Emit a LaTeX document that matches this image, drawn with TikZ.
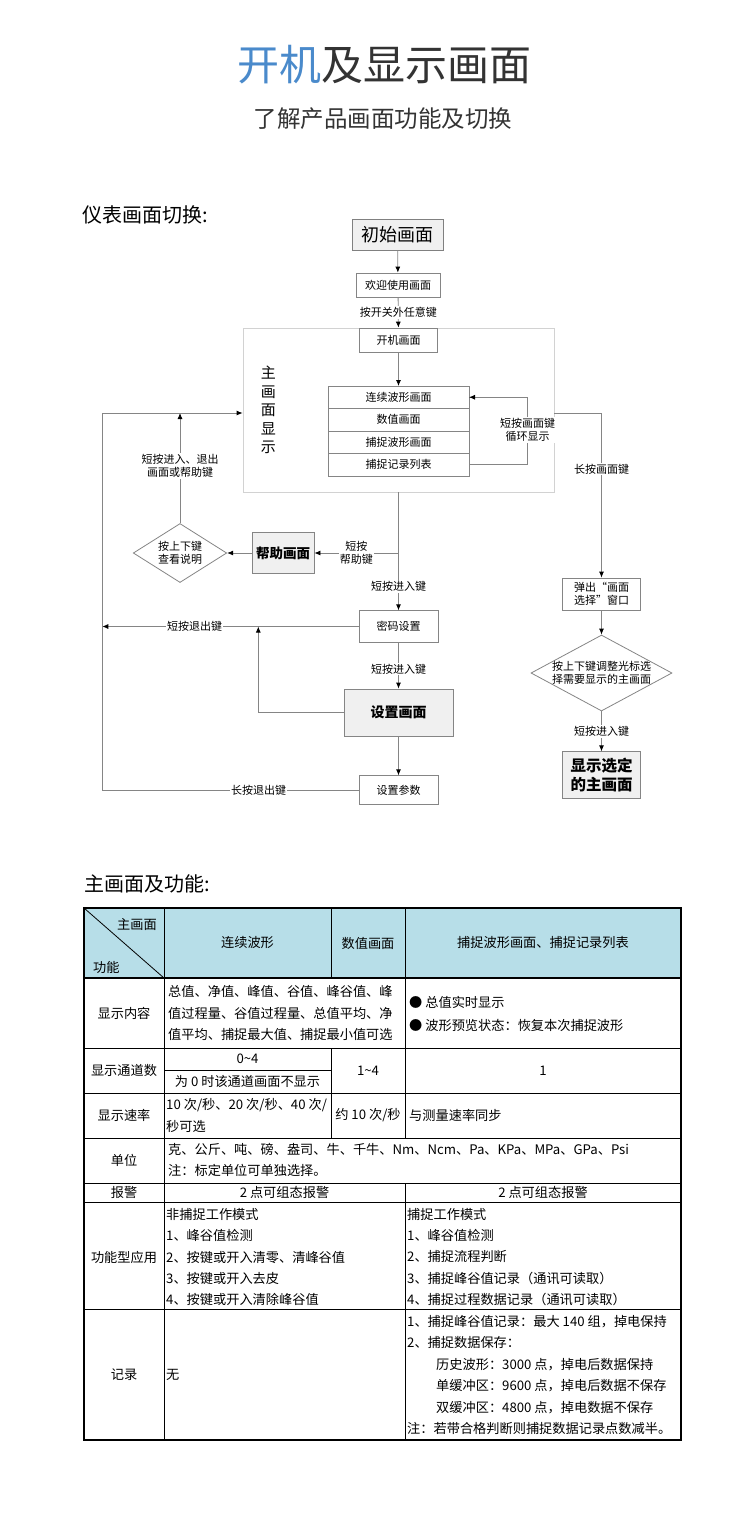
\documentclass[tikz,border=0pt]{standalone}
\usepackage{fontspec}
\setmainfont{Noto Sans CJK SC}
\usepackage{xcolor}
\usetikzlibrary{shapes.geometric, arrows.meta, positioning, calc}

\definecolor{titleblue}{HTML}{4A8ACB}
\definecolor{inkgray}{HTML}{333333}
\definecolor{flowline}{HTML}{858585}
\definecolor{framegray}{HTML}{D2D2D2}
\definecolor{screenfill}{HTML}{F0F0F0}
\definecolor{headblue}{HTML}{B7DEE8}

\newcommand{\flowfont}{\fontsize{11}{13.5}\selectfont}
\newcommand{\cellfont}{\fontsize{13.2}{21.5}\selectfont}

\begin{document}
\begin{tikzpicture}[x=1pt, y=-1pt,
        screen/.style={rectangle, draw=flowline, fill=white, line width=0.8pt, inner sep=0pt, align=center, font=\flowfont},
        keyscreen/.style={screen, fill=screenfill, font=\fontsize{13.5}{17}\selectfont\bfseries},
        stack/.style={screen, minimum width=141pt, minimum height=22.5pt, outer sep=0pt},
        choice/.style={diamond, draw=flowline, fill=white, line width=0.8pt, inner sep=0pt},
        arrow/.style={-{Latex[length=6pt, width=5pt, color=black]}, draw=flowline, line width=0.8pt},
        keylabel/.style={fill=white, inner sep=1pt, align=center, font=\flowfont},
        tline/.style={draw=black, line width=0.8pt},
        tframe/.style={draw=black, line width=1.8pt},
        cell/.style={inner sep=0pt, align=center, font=\cellfont},
        celltext/.style={inner sep=0pt, align=left, anchor=west, font=\cellfont}
    ]
        \useasboundingbox (0,0) rectangle (750,1527);

        % Headings
        \node[font=\fontsize{42}{46}\selectfont, text=inkgray] (title) at (384,65) {\textcolor{titleblue}{开机}及显示画面};
        \node[font=\fontsize{23.5}{26}\selectfont, text=inkgray] (subtitle) at (383,119) {了解产品画面功能及切换};
        \node[font=\fontsize{20}{24}\selectfont, anchor=west, inner sep=0pt] (flowhead) at (82,215) {仪表画面切换:};

        % Power-on chain
        \node[screen, fill=screenfill, draw=gray, font=\fontsize{18}{20}\selectfont, minimum width=91pt, minimum height=31pt] (init) at (397.5,234.5) {初始画面};
        \node[screen, minimum width=84pt, minimum height=24pt] (welcome) at (398,285) {欢迎使用画面};

        % Main display frame
        \node[rectangle, draw=framegray, line width=0.8pt, minimum width=311pt, minimum height=164pt] (mainframe) at (398.5,410) {};
        \node[screen, minimum width=78pt, minimum height=24pt] (boot) at (398.5,340) {开机画面};
        \node[font=\fontsize{15}{18.4}\selectfont, align=center, inner sep=0pt] (maintitle) at (268.3,410) {主\\画\\面\\显\\示};
        \node[stack] (wave) at (398.5,397.25) {连续波形画面};
        \node[stack, below=0pt of wave] (num) {数值画面};
        \node[stack, below=0pt of num] (cap) {捕捉波形画面};
        \node[stack, below=0pt of cap] (rec) {捕捉记录列表};
        \coordinate (loopR) at (527.5,430);

        % Help branch
        \node[keyscreen, minimum width=62pt, minimum height=40.5pt] (help) at (283,553) {帮助画面};
        \node[choice, minimum width=93.5pt, minimum height=59pt,
              label={[font=\flowfont, align=center]center:按上下键\\查看说明}] (helpdia) at (180,553) {};
        \coordinate (helpJ) at (398.5,553);
        \coordinate (helpUp) at (180,413);

        % Settings chain
        \node[screen, minimum width=79pt, minimum height=31.5pt] (pwd) at (398.5,626.5) {密码设置};
        \node[keyscreen, font=\fontsize{14}{17}\selectfont\bfseries, minimum width=109pt, minimum height=47pt] (setup) at (398.5,712.5) {设置画面};
        \node[screen, minimum width=79pt, minimum height=28.5pt] (param) at (398.5,790) {设置参数};
        \coordinate (setupUp) at (258.3,626.5);
        \coordinate (retBot) at (102.3,790);
        \coordinate (retTop) at (102.3,413);

        % Screen select chain
        \node[screen, minimum width=78pt, minimum height=32pt] (popup) at (601.5,594) {弹出“画面\\选择”窗口};
        \node[choice, minimum width=141pt, minimum height=76pt,
              label={[font=\flowfont, align=center]center:按上下键调整光标选\\择需要显示的主画面}] (seldia) at (601.5,673) {};
        \node[keyscreen, font=\fontsize{15.5}{19.5}\selectfont\bfseries, minimum width=78pt, minimum height=46.5pt] (final) at (601.5,775) {显示选定\\的主画面};

        % Connectors
        \draw[arrow] (init) -- (welcome);
        \draw[arrow] (welcome) -- node[keylabel] {按开关外任意键} (boot);
        \draw[arrow] (boot) -- (wave);
        \draw[arrow] (rec.east) -| (loopR) |- (wave.east);
        \node[keylabel] (looplbl) at (loopR) {短按画面键\\循环显示};
        \draw[arrow] ([yshift=-3pt]mainframe.east) -| node[keylabel, pos=0.67] {长按画面键} (popup);
        \draw[arrow] (mainframe.south) -- node[keylabel, pos=0.8] {短按进入键} (pwd);
        \draw[arrow] (helpJ) -- node[keylabel] {短按\\帮助键} (help);
        \draw[arrow] (help) -- (helpdia);
        \draw[arrow] (helpdia.north) -- node[keylabel, pos=0.52] {短按进入、退出\\画面或帮助键} (helpUp);
        \draw[arrow] (pwd.west) -- node[keylabel, pos=0.64] {短按退出键} (pwd.west -| retTop);
        \draw[arrow] (pwd) -- node[keylabel, pos=0.58] {短按进入键} (setup);
        \draw[arrow] (setup.west) -| (setupUp);
        \draw[arrow] (setup) -- (param);
        \draw[arrow] (param.west) -- node[keylabel, pos=0.39] {长按退出键} (retBot) -- (retTop) -- ([yshift=-3pt]mainframe.west);
        \draw[arrow] (popup) -- (seldia);
        \draw[arrow] (seldia) -- node[keylabel] {短按进入键} (final);

        % Table heading
        \node[font=\fontsize{20}{24}\selectfont, anchor=west, inner sep=0pt] (tablehead) at (84,884) {主画面及功能:};

        % Table grid
        \fill[headblue] (84,908) rectangle (681,978);
        \draw[tline] (84,908) -- (164,978);
        \foreach \ry in {1048,1093,1138,1183,1202,1309}
            \draw[tline] (84,\ry) -- (681,\ry);
        \draw[tline] (164,908) -- (164,1440);
        \draw[tline] (331,908) -- (331,978);
        \draw[tline] (331,1048) -- (331,1138);
        \draw[tline] (405,908) -- (405,1138);
        \draw[tline] (405,1183) -- (405,1440);
        \draw[tline] (164,1070.5) -- (331,1070.5);
        \draw[tframe] (84,978) -- (681,978);
        \draw[tframe] (84,908) rectangle (681,1440);

        % Table header
        \node[cell, anchor=east] (hdcorner) at (157,924) {主画面};
        \node[cell, anchor=west] (hdfunc) at (93,967) {功能};
        \node[cell] (hdwave) at (247.5,943) {连续波形};
        \node[cell] (hdnum) at (368,943) {数值画面};
        \node[cell] (hdcap) at (543,943) {捕捉波形画面、捕捉记录列表};

        % Table rows
        \node[cell] (rContent) at (124,1013) {显示内容};
        \node[celltext] (contentL) at (168,1013) {总值、净值、峰值、谷值、峰谷值、峰\\值过程量、谷值过程量、总值平均、净\\值平均、捕捉最大值、捕捉最小值可选};
        \node[celltext, font=\fontsize{13.2}{23}\selectfont] (contentR) at (409,1013.5) {● 总值实时显示\\● 波形预览状态：恢复本次捕捉波形};

        \node[cell] (rChan) at (124,1070.5) {显示通道数};
        \node[cell] (chanA) at (247.5,1059) {0\textasciitilde4};
        \node[cell] (chanB) at (247.5,1081.5) {为 0 时该通道画面不显示};
        \node[cell] (chanNum) at (368,1070.5) {1\textasciitilde4};
        \node[cell] (chanCap) at (543,1070.5) {1};

        \node[cell] (rSpeed) at (124,1115.5) {显示速率};
        \node[celltext] (speedL) at (166,1115.5) {10 次/秒、20 次/秒、40 次/\\秒可选};
        \node[cell] (speedNum) at (368,1115.5) {约 10 次/秒};
        \node[celltext] (speedCap) at (409,1115.5) {与测量速率同步};

        \node[cell] (rUnit) at (124,1160.5) {单位};
        \node[celltext] (unitTxt) at (168,1160) {克、公斤、吨、磅、盎司、牛、千牛、Nm、Ncm、Pa、KPa、MPa、GPa、Psi\\注：标定单位可单独选择。};

        \node[cell] (rAlarm) at (124,1192.5) {报警};
        \node[cell] (alarmL) at (284.5,1192.5) {2 点可组态报警};
        \node[cell] (alarmR) at (543,1192.5) {2 点可组态报警};

        \node[cell] (rFunc) at (124,1257) {功能型应用};
        \node[celltext, font=\fontsize{13.2}{21.3}\selectfont] (funcL) at (166,1257) {非捕捉工作模式\\1、峰谷值检测\\2、按键或开入清零、清峰谷值\\3、按键或开入去皮\\4、按键或开入清除峰谷值};
        \node[celltext, font=\fontsize{13.2}{21.3}\selectfont] (funcR) at (407,1257) {捕捉工作模式\\1、峰谷值检测\\2、捕捉流程判断\\3、捕捉峰谷值记录（通讯可读取）\\4、捕捉过程数据记录（通讯可读取）};

        \node[cell] (rRec) at (124,1375) {记录};
        \node[celltext] (recL) at (166,1375) {无};
        \node[celltext, font=\fontsize{13.2}{21.4}\selectfont] (recR) at (407,1375) {1、捕捉峰谷值记录：最大 140 组，掉电保持\\2、捕捉数据保存：\\\hspace*{29pt}历史波形：3000 点，掉电后数据保持\\\hspace*{29pt}单缓冲区：9600 点，掉电后数据不保存\\\hspace*{29pt}双缓冲区：4800 点，掉电数据不保存\\注：若带合格判断则捕捉数据记录点数减半。};

    \end{tikzpicture}
\end{document}
